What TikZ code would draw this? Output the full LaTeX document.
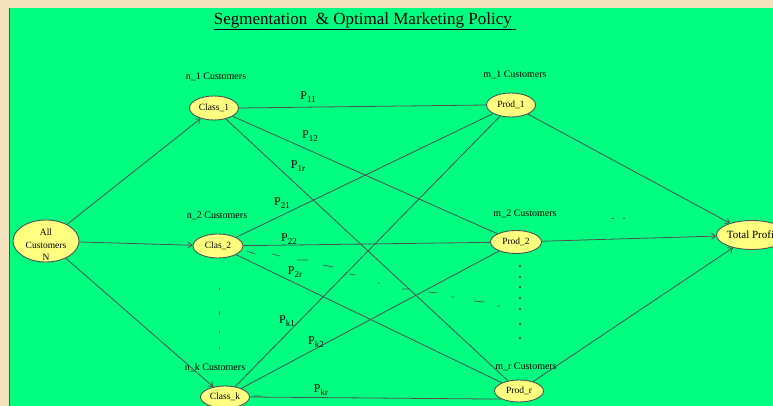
\documentclass[tikz,border=0pt]{standalone}
\usepackage{fontspec}
\setmainfont{Liberation Serif}
\usetikzlibrary{shapes.geometric,arrows.meta}
\definecolor{bggreen}{RGB}{0,255,128}
\definecolor{beige}{RGB}{243,226,188}
\definecolor{nodefill}{RGB}{255,255,128}
\definecolor{edgegray}{RGB}{80,80,80}
\newcommand\Psub[1]{P\raisebox{-0.45ex}{\fontsize{9}{9}\selectfont #1}}
\begin{document}
\begin{tikzpicture}[x=1pt,y=-1pt,
  oval/.style={ellipse,draw=edgegray,line width=0.9pt,fill=nodefill,inner sep=0pt,font=\fontsize{9.5}{11}\selectfont},
  conn/.style={draw=edgegray,line width=0.8pt},
  arr/.style={conn,-{Straight Barb[length=4pt,width=6pt]}},
  caption/.style={font=\fontsize{10}{12}\selectfont,inner sep=0pt},
  plab/.style={font=\fontsize{12}{13}\selectfont,inner sep=0pt},
  dotmark/.style={fill=edgegray,draw=none},
  frag/.style={draw=edgegray,line width=0.7pt},
]
\useasboundingbox (0,0) rectangle (773,406);
\clip (0,0) rectangle (773,406);
\fill[beige] (0,0) rectangle (773,406);
\fill[bggreen] (9,8) rectangle (773,406);
\draw[edgegray,line width=0.6pt] (9,406) -- (9,8);

% title
\node[inner sep=0pt,font=\fontsize{17}{20}\selectfont] (title) at (365,21)
  {\underline{Segmentation\ \ \& Optimal Marketing Policy\ }};

% nodes
\node[oval,minimum width=66pt,minimum height=42pt] (all) at (46,241) {};
\node[inner sep=0pt,align=center,font=\fontsize{9.5}{12.5}\selectfont] (allt) at (46,245) {All\\Customers\\N};
\node[oval,minimum width=49pt,minimum height=24pt] (c1) at (214,108) {Class\_1};
\node[oval,minimum width=50pt,minimum height=24pt] (c2) at (218,246) {Clas\_2};
\node[oval,minimum width=49pt,minimum height=22pt] (ck) at (225,397) {Class\_k};
\node[oval,minimum width=49pt,minimum height=24pt] (p1) at (511,105) {Prod\_1};
\node[oval,minimum width=51pt,minimum height=23pt] (p2) at (516,242) {Prod\_2};
\node[oval,minimum width=49pt,minimum height=22pt] (pr) at (519,391) {Prod\_r};
\node[oval,minimum width=66pt,minimum height=29pt,font=\fontsize{11}{12}\selectfont] (tp) at (752,235) {Total Profit};

% captions
\node[caption] (n1) at (216,77) {n\_1 Customers};
\node[caption] (m1) at (515,75) {m\_1 Customers};
\node[caption] (n2) at (217,216) {n\_2 Customers};
\node[caption] (m2) at (525,214) {m\_2 Customers};
\node[caption] (nk) at (215,368) {n\_k Customers};
\node[caption] (mr) at (526,367) {m\_r Customers};

% edges from all customers
\draw[arr] (all) -- (c1);
\draw[arr] (all) -- (c2);
\draw[arr] (all) -- (ck);

% class to product
\draw[conn] (c1.east) -- (p1.west);
\draw[conn] (c1) -- (p2);
\draw[conn] (c1) -- (pr);
\draw[conn] (c2) -- (p1);
\draw[conn] (c2) -- (p2);
\draw[conn] (c2) -- (pr);
\draw[conn] (ck) -- (p1);
\draw[conn] (ck) -- (p2);
\draw[conn] (ck.east) -- (pr.south west);

% product to total profit
\draw[arr] (p1) -- (tp);
\draw[arr] (p2) -- (tp);
\draw[arr] (pr) -- (tp);

% P labels
\node[plab] (l11) at (308,97) {\Psub{11}};
\node[plab] (l12) at (310,136) {\Psub{12}};
\node[plab] (l1r) at (298,166) {\Psub{1r}};
\node[plab] (l21) at (282,203) {\Psub{21}};
\node[plab] (l22) at (289,239) {\Psub{22}};
\node[plab] (l2r) at (295,272) {\Psub{2r}};
\node[plab] (lk1) at (287,321) {\Psub{k1}};
\node[plab] (lk2) at (316,342) {\Psub{k2}};
\node[plab] (lkr) at (321,390) {\Psub{kr}};

% vertical dots
\foreach \yy in {289,332,348} \fill[dotmark] (218.5,\yy-1) rectangle (219.8,\yy+1);
\fill[dotmark] (218.5,311) rectangle (219.8,315);
\foreach \yy in {266,277,287,298,309,324,338} \fill[dotmark] (519.3,\yy-1) rectangle (520.6,\yy+1);
\fill[dotmark] (611,217.5) rectangle (614,218.7);
\fill[dotmark] (623,217.5) rectangle (625,218.7);

% dashed fragments
\draw[frag] (247,251)--(255,254) (272,254)--(280,256) (297,260)--(308,260)
  (323,265)--(333,267) (349,274)--(355,275) (377,283)--(380,283)
  (402,289)--(410,289) (428,292)--(437,293) (451,297)--(454,297)
  (474,301)--(484,302) (497,306)--(500,306) (253,396)--(261,396);
\end{tikzpicture}
\end{document}
